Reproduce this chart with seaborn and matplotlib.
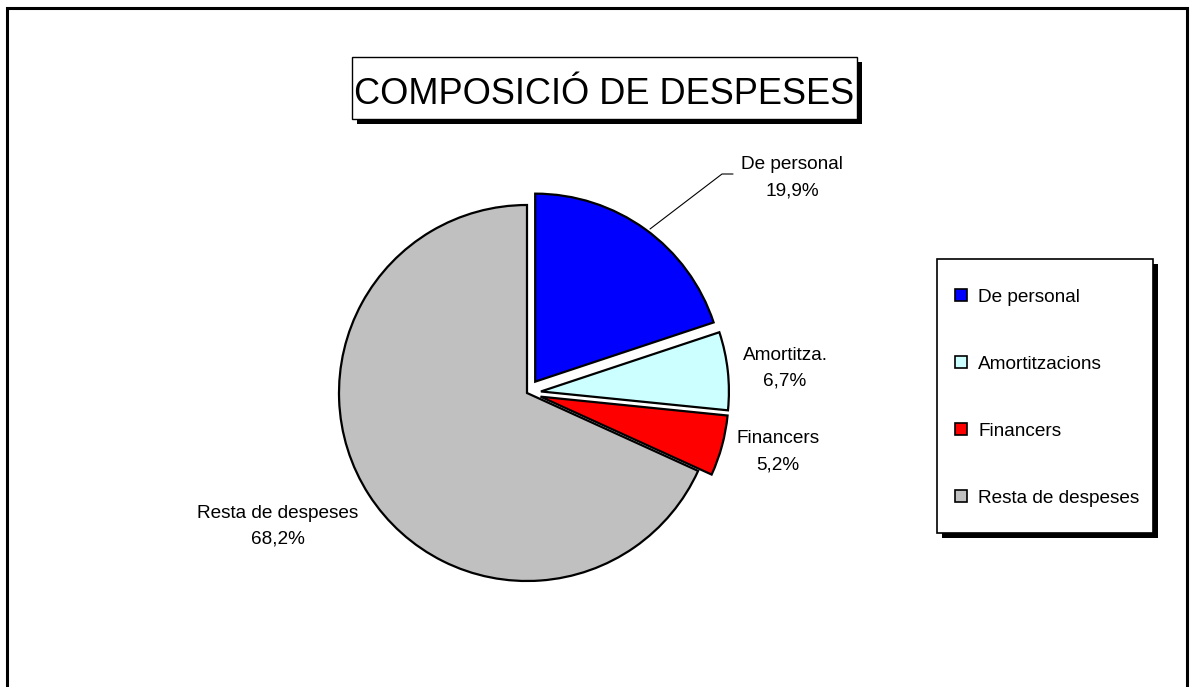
import matplotlib
matplotlib.use("Agg")
import matplotlib.pyplot as plt
from matplotlib.patches import Rectangle
import seaborn as sns

categories = ["De personal", "Amortitzacions", "Financers", "Resta de despeses"]
short_labels = ["De personal", "Amortitza.", "Financers", "Resta de despeses"]
values = [19.9, 6.7, 5.2, 68.2]
colors = ["#0000FF", "#CCFFFF", "#FF0000", "#C0C0C0"]
title = "COMPOSICIÓ DE DESPESES"

sns.set_theme(style="white")
plt.rcParams['font.family'] = ['Liberation Sans', 'DejaVu Sans']

W, H = 1194, 687
fig = plt.figure(figsize=(W / 100, H / 100), dpi=100)
ax = fig.add_axes([0, 0, 1, 1])

def Y(y):
    return H - y

# pie
cx, cy, r = 527, 393, 188
ex = 14
wedges, _ = ax.pie(values, colors=colors, startangle=90, counterclock=False,
                   explode=[ex, ex, ex, 0.0], center=(cx, Y(cy)), radius=r,
                   wedgeprops=dict(edgecolor="black", linewidth=1.6), frame=True)
ax.set_xlim(0, W)
ax.set_ylim(0, H)
ax.axis("off")

# outer frame
ax.plot([7, 7, 1187, 1187], [Y(700), Y(8), Y(8), Y(700)], color="black", lw=2.2,
        solid_capstyle="butt", solid_joinstyle="miter", clip_on=False)

# data labels (two lines, baselines in pixels)
fs = 13.7
label_pos = [(792, 169, 195), (785, 360, 386), (778, 443, 469), (278, 518, 544)]
for lab, v, (lx, b1, b2) in zip(short_labels, values, label_pos):
    pct = f"{v:.1f}%".replace(".", ",")
    ax.text(lx, Y(b1), lab, ha="center", va="baseline", fontsize=fs, color="black")
    ax.text(lx, Y(b2), pct, ha="center", va="baseline", fontsize=fs, color="black")

# leader line for De personal
ax.plot([650, 722, 733], [Y(229), Y(174), Y(174)], color="black", lw=0.8)

# title box with shadow
tx0, ty0, tx1, ty1 = 352, 57, 857, 119
ax.add_patch(Rectangle((tx0 + 5, Y(ty1 + 5)), tx1 - tx0, ty1 - ty0, facecolor="black", edgecolor="black", lw=0))
ax.add_patch(Rectangle((tx0, Y(ty1)), tx1 - tx0, ty1 - ty0, facecolor="white", edgecolor="black", lw=1))
ax.text((tx0 + tx1) / 2, Y(104), title, ha="center", va="baseline", fontsize=26, color="black")

# legend box with shadow
lx0, ly0, lx1, ly1 = 937, 259, 1153, 533
ax.add_patch(Rectangle((lx0 + 5, Y(ly1 + 5)), lx1 - lx0, ly1 - ly0, facecolor="black", edgecolor="black", lw=0))
ax.add_patch(Rectangle((lx0, Y(ly1)), lx1 - lx0, ly1 - ly0, facecolor="white", edgecolor="black", lw=1.2))
entry_base = [302, 369, 436, 503]
for cat, col, eb in zip(categories, colors, entry_base):
    ax.add_patch(Rectangle((954.5, Y(eb - 1)), 12, 12, facecolor=col, edgecolor="black", lw=1.2))
    ax.text(978, Y(eb), cat, ha="left", va="baseline", fontsize=fs, color="black")

fig.savefig("out.png", dpi=100)
